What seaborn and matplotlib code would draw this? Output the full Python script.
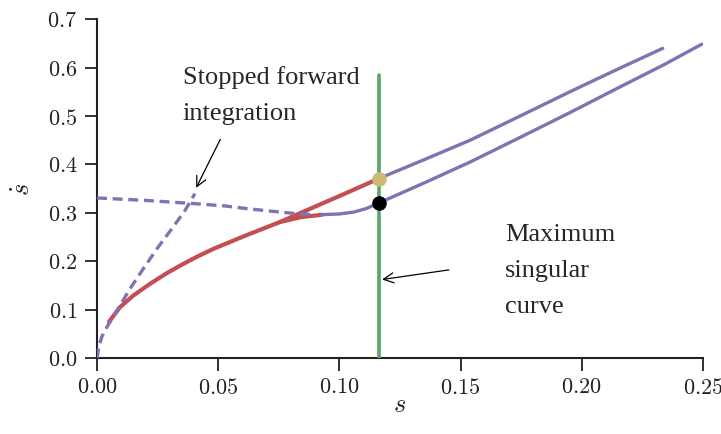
import matplotlib
matplotlib.use("Agg")
import matplotlib.pyplot as plt
from matplotlib.ticker import FuncFormatter
import seaborn as sns

# forward integration from the origin (stopped, dashed)
fwd_s = [0.0, 0.0008, 0.002, 0.004, 0.0095, 0.0136, 0.0191, 0.0250, 0.0308, 0.0363, 0.0404]
fwd_sd = [0.0, 0.025, 0.045, 0.064, 0.109, 0.1436, 0.185, 0.228, 0.267, 0.305, 0.340]

# backward integration (dashed)
bwd_s = [0.0, 0.02, 0.0411, 0.0528, 0.0618, 0.0734, 0.0824, 0.0899]
bwd_sd = [0.331, 0.326, 0.319, 0.3145, 0.309, 0.303, 0.2986, 0.2965]

# red profile up to the maximum singular curve
red_s = [0.0050, 0.0095, 0.0150, 0.0219, 0.0288, 0.0356, 0.0418, 0.048, 0.0618, 0.0755, 0.0906, 0.1023, 0.1163]
red_sd = [0.076, 0.1058, 0.1298, 0.154, 0.176, 0.195, 0.2112, 0.226, 0.2545, 0.2814, 0.3145, 0.340, 0.371]

# red branch bending towards the lower curve
red2_s = [0.0755, 0.0844, 0.0906, 0.0927]
red2_sd = [0.2814, 0.2917, 0.295, 0.2965]

# purple profiles past the singular curve
low_s = [0.0927, 0.100, 0.106, 0.111, 0.1163, 0.135, 0.1539, 0.175, 0.1951, 0.215, 0.2336, 0.2495]
low_sd = [0.2965, 0.298, 0.302, 0.309, 0.3207, 0.362, 0.405, 0.457, 0.507, 0.558, 0.605, 0.648]
up_s = [0.1163, 0.135, 0.1539, 0.175, 0.1951, 0.215, 0.2334]
up_sd = [0.371, 0.410, 0.450, 0.501, 0.550, 0.597, 0.6395]

# maximum singular curve and the switch points on it
sing_s = [0.1163, 0.1163]
sing_sd = [0.0, 0.584]
switch_hi = (0.1163, 0.371)
switch_lo = (0.1163, 0.3207)

PURPLE = "#8172B2"
RED = "#C44E52"
GREEN = "#55A868"
TAN = "#CCB974"

sns.set_theme(style="ticks")
plt.rcParams["font.family"] = ["Liberation Serif", "DejaVu Serif"]
plt.rcParams["mathtext.fontset"] = "cm"

fig = plt.figure(figsize=(7.21, 4.35), dpi=100)
ax = fig.add_axes([0.1345, 0.1736, 0.8405, 0.7804])

line_kw = dict(sort=False, estimator=None, ax=ax, legend=False)
sns.lineplot(x=red_s, y=red_sd, color=RED, lw=3.0, zorder=2, **line_kw)
sns.lineplot(x=red2_s, y=red2_sd, color=RED, lw=3.0, zorder=2, **line_kw)
sns.lineplot(x=fwd_s, y=fwd_sd, color=PURPLE, lw=2.4, linestyle=(0, (3, 1.7)), zorder=3, **line_kw)
sns.lineplot(x=bwd_s, y=bwd_sd, color=PURPLE, lw=2.4, linestyle=(0, (3, 1.7)), zorder=3, **line_kw)
sns.lineplot(x=low_s, y=low_sd, color=PURPLE, lw=2.4, zorder=3, **line_kw)
sns.lineplot(x=up_s, y=up_sd, color=PURPLE, lw=2.4, zorder=3, **line_kw)
sns.lineplot(x=sing_s, y=sing_sd, color=GREEN, lw=2.6, zorder=4, **line_kw)
sns.scatterplot(x=[switch_hi[0]], y=[switch_hi[1]], color=TAN, s=110, linewidth=0, zorder=5, ax=ax)
sns.scatterplot(x=[switch_lo[0]], y=[switch_lo[1]], color="black", s=110, linewidth=0, zorder=5, ax=ax)

# multi-line text with va="baseline" is anchored on the last line
ax.annotate("", xy=(0.0404, 0.3467), xytext=(0.0514, 0.457),
            arrowprops=dict(arrowstyle="->", color="black", lw=0.9, mutation_scale=18))
ax.text(0.0354, 0.4928, "Stopped forward\nintegration", fontsize=19,
        ha="left", va="baseline", linespacing=1.84)
ax.annotate("", xy=(0.1165, 0.162), xytext=(0.1463, 0.1835),
            arrowprops=dict(arrowstyle="->", color="black", lw=0.9, mutation_scale=18))
ax.text(0.1683, 0.0955, "Maximum\nsingular\ncurve", fontsize=19,
        ha="left", va="baseline", linespacing=1.84)

ax.set_xlim(0, 0.25)
ax.set_ylim(0, 0.7)
ax.set_xticks([0.0, 0.05, 0.10, 0.15, 0.20, 0.25])
ax.set_yticks([0.0, 0.1, 0.2, 0.3, 0.4, 0.5, 0.6, 0.7])
ax.xaxis.set_major_formatter(FuncFormatter(lambda v, p: f"${v:.2f}$"))
ax.yaxis.set_major_formatter(FuncFormatter(lambda v, p: f"${v:.1f}$"))
ax.tick_params(axis="both", labelsize=16, length=9, width=1.3, pad=5, color="#222222", labelcolor="#222222")
ax.set_xlabel("$s$", fontsize=19, labelpad=-3)
ax.set_ylabel(r"$\dot{s}$", fontsize=19, labelpad=9, rotation=90)
for side in ("left", "bottom"):
    ax.spines[side].set_linewidth(1.5)
    ax.spines[side].set_color("#222222")
sns.despine(ax=ax)

fig.savefig("out.png", dpi=100)
